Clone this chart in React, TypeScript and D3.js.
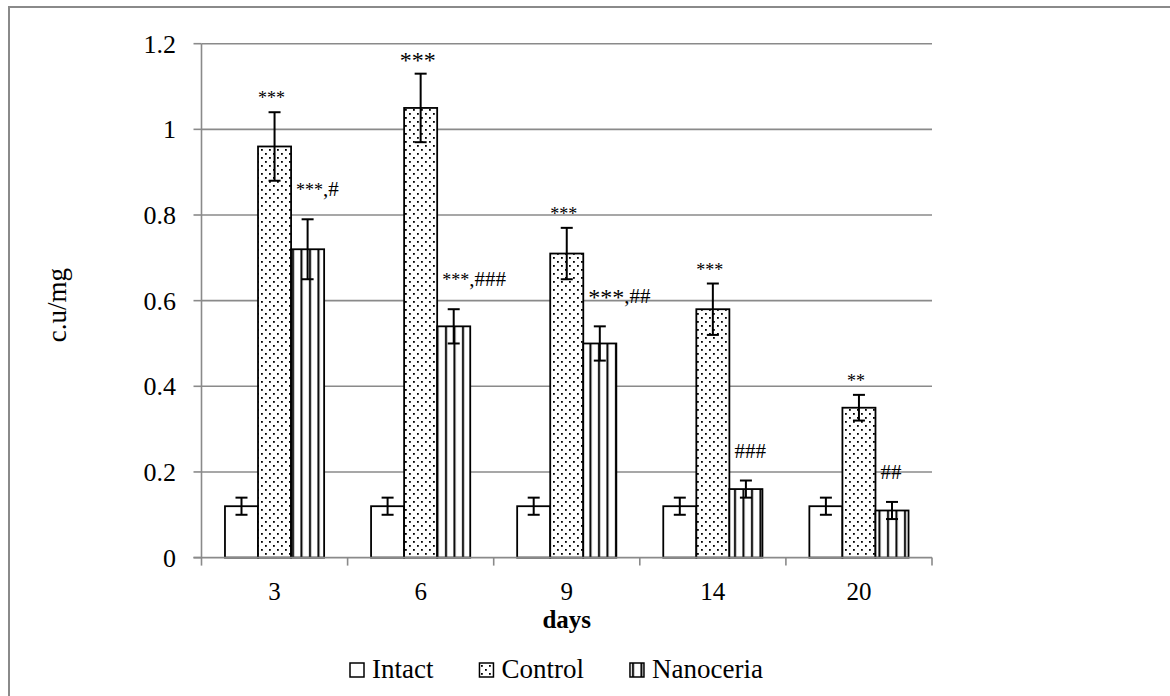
import React from 'react'
import * as d3 from 'd3'

const days = ['3', '6', '9', '14', '20']
const seriesNames = ['Intact', 'Control', 'Nanoceria']
const intact = [0.12, 0.12, 0.12, 0.12, 0.12]
const intactErr = [0.02, 0.02, 0.02, 0.02, 0.02]
const control = [0.96, 1.05, 0.71, 0.58, 0.35]
const controlErr = [0.08, 0.08, 0.06, 0.06, 0.03]
const nanoceria = [0.72, 0.54, 0.5, 0.16, 0.11]
const nanoceriaErr = [0.07, 0.04, 0.04, 0.02, 0.02]
const yTicks = [0, 0.2, 0.4, 0.6, 0.8, 1, 1.2]
const controlMarks = ['***', '***', '***', '***', '**']
const nanoceriaMarks = ['***,#', '***,###', '***,##', '###', '##']

const width = 1170
const height = 696
const plot = { left: 201.5, right: 932, top: 43.7, bottom: 557.6 }
const font = 'Liberation Serif, Times New Roman, serif'
const grey = '#8a8a8a'
// labels drawn with the bigger asterisks in the original
const bigStars = new Set(['6-Control', '9-Nanoceria'])

const values = [intact, control, nanoceria]
const errors = [intactErr, controlErr, nanoceriaErr]
const fills = ['#fff', 'url(#dots)', 'url(#stripes)']

const x0 = d3.scaleBand().domain(days).range([plot.left, plot.right]).paddingInner(0).paddingOuter(0)
const x1 = d3
  .scaleBand()
  .domain(seriesNames)
  .range([0, x0.bandwidth()])
  .paddingInner(0)
  .paddingOuter(0.71)
const y = d3.scaleLinear().domain([0, 1.2]).range([plot.bottom, plot.top])

function measure(text: string, size: number) {
  const ctx = document.createElement('canvas').getContext('2d')
  if (!ctx) return text.length * size * 0.5
  ctx.font = `${size}px ${font}`
  return ctx.measureText(text).width
}

function Mark({ text, x, y: yy, big, anchor }: { text: string; x: number; y: number; big: boolean; anchor: string }) {
  const stars = text.match(/^\*+/)
  const rest = stars ? text.slice(stars[0].length) : text
  return (
    <text x={x} y={yy} fontSize={21} fontFamily={font} textAnchor={anchor} fill="#000">
      {stars ? (
        <tspan fontSize={big ? 24 : 18} dy={big ? 2 : 0}>
          {stars[0]}
        </tspan>
      ) : null}
      {rest ? <tspan dy={big && stars ? -2 : 0}>{rest}</tspan> : null}
    </text>
  )
}

export default function App() {
  const legendSize = 27
  let lx = 350
  const legendItems = seriesNames.map((name, i) => {
    const item = { name, x: lx, fill: fills[i] }
    lx += 14 + 8 + measure(name, legendSize) + 46
    return item
  })

  return (
    <svg
      width={width}
      height={height}
      style={{ position: 'absolute', left: 0, top: 0, background: '#fff' }}
    >
      <defs>
        <pattern id="dots" width={8} height={8} patternUnits="userSpaceOnUse">
          <rect width={8} height={8} fill="#fff" />
          <rect x={1} y={1} width={1.8} height={1.8} fill="#000" />
          <rect x={5} y={5} width={1.8} height={1.8} fill="#000" />
        </pattern>
        <pattern id="stripes" width={8.5} height={10} patternUnits="userSpaceOnUse">
          <rect width={8.5} height={10} fill="#fff" />
          <rect x={3} y={0} width={2} height={10} fill="#000" />
        </pattern>
      </defs>

      <rect x={9} y={7} width={1300} height={900} fill="none" stroke={grey} strokeWidth={2} />

      {/* grid + y axis */}
      {yTicks.map(t => (
        <g key={t}>
          {t > 0 ? (
            <line x1={plot.left} x2={plot.right} y1={y(t)} y2={y(t)} stroke={grey} strokeWidth={1.6} />
          ) : null}
          <line x1={plot.left - 8} x2={plot.left} y1={y(t)} y2={y(t)} stroke={grey} strokeWidth={1.6} />
          <text
            x={176}
            y={y(t)}
            dy={9}
            textAnchor="end"
            fontSize={26}
            fontFamily={font}
            fill="#000"
          >
            {t}
          </text>
        </g>
      ))}
      <line x1={plot.left} x2={plot.left} y1={plot.top} y2={plot.bottom} stroke={grey} strokeWidth={1.6} />

      {/* bars */}
      {days.map((d, di) => (
        <g key={d}>
          {seriesNames.map((s, si) => {
            const v = values[si][di]
            const e = errors[si][di]
            const bx = (x0(d) as number) + (x1(s) as number)
            const bw = x1.bandwidth()
            const cx = bx + bw / 2
            return (
              <g key={s}>
                <rect
                  x={bx}
                  y={y(v)}
                  width={bw}
                  height={y(0) - y(v)}
                  fill={fills[si]}
                  stroke="#000"
                  strokeWidth={1.8}
                />
                <line x1={cx} x2={cx} y1={y(v + e)} y2={y(v - e)} stroke="#000" strokeWidth={2} />
                <line x1={cx - 6} x2={cx + 6} y1={y(v + e)} y2={y(v + e)} stroke="#000" strokeWidth={2} />
                <line x1={cx - 6} x2={cx + 6} y1={y(v - e)} y2={y(v - e)} stroke="#000" strokeWidth={2} />
              </g>
            )
          })}
        </g>
      ))}

      {/* significance marks */}
      {days.map((d, di) => {
        const cBx = (x0(d) as number) + (x1('Control') as number)
        const nBx = (x0(d) as number) + (x1('Nanoceria') as number)
        const cTop = y(control[di] + controlErr[di])
        const nTop = y(nanoceria[di] + nanoceriaErr[di])
        return (
          <g key={d}>
            <Mark
              text={controlMarks[di]}
              x={cBx + x1.bandwidth() / 2 - 3}
              y={cTop - 8}
              big={bigStars.has(`${d}-Control`)}
              anchor="middle"
            />
            <Mark
              text={nanoceriaMarks[di]}
              x={nBx + 5}
              y={nTop - 23}
              big={bigStars.has(`${d}-Nanoceria`)}
              anchor="start"
            />
          </g>
        )
      })}

      {/* x axis */}
      <line x1={plot.left - 8} x2={plot.right} y1={plot.bottom} y2={plot.bottom} stroke={grey} strokeWidth={1.6} />
      {[...days.map(d => x0(d) as number), plot.right].map((tx, i) => (
        <line key={i} x1={tx} x2={tx} y1={plot.bottom} y2={plot.bottom + 8} stroke={grey} strokeWidth={1.6} />
      ))}
      {days.map(d => (
        <text
          key={d}
          x={(x0(d) as number) + x0.bandwidth() / 2}
          y={600}
          textAnchor="middle"
          fontSize={25}
          fontFamily={font}
          fill="#000"
        >
          {d}
        </text>
      ))}
      <text
        x={(plot.left + plot.right) / 2}
        y={628}
        textAnchor="middle"
        fontSize={25}
        fontWeight="bold"
        fontFamily={font}
        fill="#000"
      >
        days
      </text>
      <text
        transform="translate(66,305) rotate(-90)"
        textAnchor="middle"
        fontSize={27}
        fontFamily={font}
        fill="#000"
      >
        c.u/mg
      </text>

      {/* legend */}
      {legendItems.map(it => (
        <g key={it.name}>
          <rect x={it.x} y={663} width={14} height={14} fill={it.fill} stroke="#000" strokeWidth={1.5} />
          <text x={it.x + 22} y={678} fontSize={legendSize} fontFamily={font} fill="#000">
            {it.name}
          </text>
        </g>
      ))}
    </svg>
  )
}
